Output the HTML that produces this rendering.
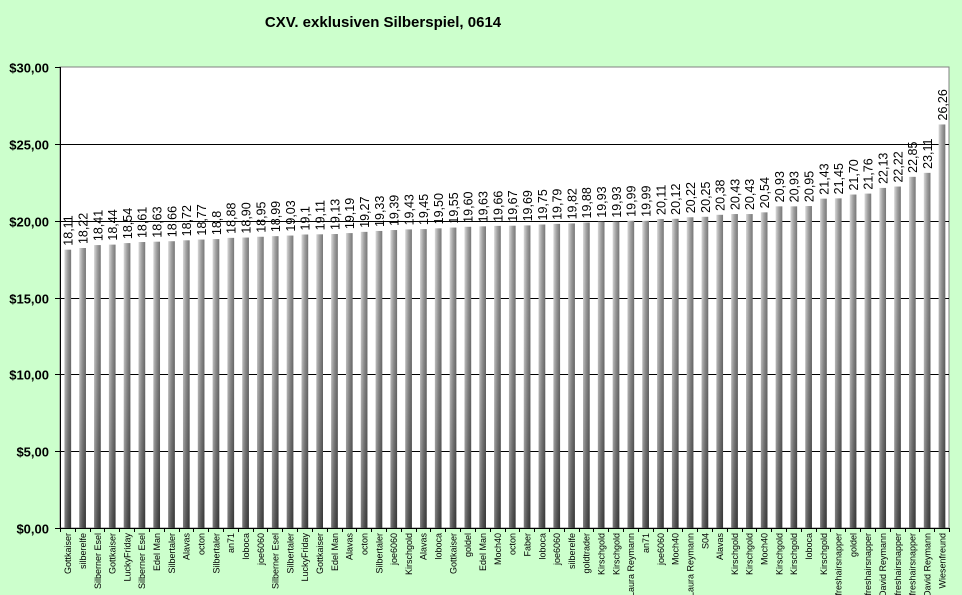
<!DOCTYPE html>
<html><head><meta charset="utf-8">
<style>
html,body{margin:0;padding:0;background:#ccffcc;}
svg{display:block;font-family:"Liberation Sans",Arial,sans-serif;}
</style></head>
<body>
<svg id="chart" width="962" height="595" viewBox="0 0 962 595">
<defs>
<linearGradient id="barGrad" x1="0" y1="0" x2="1" y2="0">
<stop offset="0" stop-color="#d0d0d0"/><stop offset="0.5" stop-color="#888888"/><stop offset="1" stop-color="#555555"/>
</linearGradient>
<linearGradient id="barShade" x1="0" y1="0" x2="0" y2="1">
<stop offset="0" stop-color="#ffffff" stop-opacity="0.2"/><stop offset="1" stop-color="#000000" stop-opacity="0.4"/>
</linearGradient>
</defs>
<rect x="0" y="0" width="962" height="595" fill="#ccffcc"/>
<text x="383" y="27" text-anchor="middle" font-size="15" font-weight="bold" fill="#000">CXV. exklusiven Silberspiel, 0614</text>
<rect x="60" y="67" width="889" height="461" fill="#ffffff" stroke="#808080" stroke-width="1"/>
<g id="grid"></g><g id="bars"></g><g id="axes"></g>
</svg>
<script>
const categories = ["Gottkaiser","silberelfe","Silberner Esel","Gottkaiser","LuckyFriday","Silberner Esel","Edel Man","Silbertaler","Alavas","octon","Silbertaler","an71","loboca","joe6060","Silberner Esel","Silbertaler","LuckyFriday","Gottkaiser","Edel Man","Alavas","octon","Silbertaler","joe6060","Kirschgold","Alavas","loboca","Gottkaiser","goldel","Edel Man","Moch40","octon","Faber","loboca","joe6060","silberelfe","goldtrader","Kirschgold","Kirschgold","Laura Reymann","an71","joe6060","Moch40","Laura Reymann","S04","Alavas","Kirschgold","Kirschgold","Moch40","Kirschgold","Kirschgold","loboca","Kirschgold","freshairsnapper","goldel","freshairsnapper","David Reymann","freshairsnapper","freshairsnapper","David Reymann","Wiesenfreund"];
const values = [18.11,18.22,18.41,18.44,18.54,18.61,18.63,18.66,18.72,18.77,18.8,18.88,18.90,18.95,18.99,19.03,19.1,19.11,19.13,19.19,19.27,19.33,19.39,19.43,19.45,19.50,19.55,19.60,19.63,19.66,19.67,19.69,19.75,19.79,19.82,19.88,19.93,19.93,19.99,19.99,20.11,20.12,20.22,20.25,20.38,20.43,20.43,20.54,20.93,20.93,20.95,21.43,21.45,21.70,21.76,22.13,22.22,22.85,23.11,26.26];
const valueLabels = ["18,11","18,22","18,41","18,44","18,54","18,61","18,63","18,66","18,72","18,77","18,8","18,88","18,90","18,95","18,99","19,03","19,1","19,11","19,13","19,19","19,27","19,33","19,39","19,43","19,45","19,50","19,55","19,60","19,63","19,66","19,67","19,69","19,75","19,79","19,82","19,88","19,93","19,93","19,99","19,99","20,11","20,12","20,22","20,25","20,38","20,43","20,43","20,54","20,93","20,93","20,95","21,43","21,45","21,70","21,76","22,13","22,22","22,85","23,11","26,26"];
const yTicks = [0,5,10,15,20,25,30];
const yTickLabels = ["$0,00","$5,00","$10,00","$15,00","$20,00","$25,00","$30,00"];

const NS="http://www.w3.org/2000/svg";
const L=60,R=949,T=67,B=528,yMax=30;
const y=v=>B-(v/yMax)*(B-T);
const band=(R-L)/categories.length;
const x=i=>L+i*band;
function mk(tag,attrs,parent){const e=document.createElementNS(NS,tag);for(const k in attrs)e.setAttribute(k,attrs[k]);parent.appendChild(e);return e;}
const grid=document.getElementById('grid'),bars=document.getElementById('bars'),axes=document.getElementById('axes');

yTicks.forEach((t,i)=>{
  const yy=Math.round(y(t))+0.5;
  if(t>0&&t<yMax){const g=mk('line',{x1:L,x2:R,y1:yy,y2:yy,stroke:'#000','stroke-width':1},grid);
    
    }
  const tk=mk('line',{x1:L-5,x2:L,y1:yy,y2:yy,stroke:'#000'},axes);
  
  
  const lb=mk('text',{x:L-11,y:yy+5,'text-anchor':'end','font-size':13,'font-weight':'bold',fill:'#000'},axes);
  lb.textContent=yTickLabels[i];
  
  
});

values.forEach((v,i)=>{
  const bx=x(i)+band*0.3, bw=band*0.45, top=y(v);
  const g=mk('g',{},bars);
  
  
  mk('rect',{x:bx,y:top,width:bw,height:B-top,fill:'url(#barGrad)'},g);
  mk('rect',{x:bx,y:top,width:bw,height:B-top,fill:'url(#barShade)'},g);
  const cx=x(i)+band*0.55;
  const vl=mk('text',{transform:`translate(${cx+4.5},${top-4}) rotate(-90)`,'font-size':12.5,fill:'#000','text-anchor':'start'},bars);
  vl.textContent=valueLabels[i];
  
  
  const cl=mk('text',{transform:`translate(${cx+3},${B+5}) rotate(-90)`,'font-size':9,fill:'#000','text-anchor':'end'},axes);
  cl.textContent=categories[i];
  
  
});
for(let i=0;i<=categories.length;i++){
  const xx=Math.round(x(i))+0.5;
  const t=mk('line',{x1:xx,x2:xx,y1:B,y2:B+4,stroke:'#000'},axes);
  
  
}
const xa=mk('line',{x1:L,x2:R,y1:B+0.5,y2:B+0.5,stroke:'#000'},axes);


const ya=mk('line',{x1:L+0.5,x2:L+0.5,y1:T,y2:B,stroke:'#000'},axes);


</script>
</body></html>
